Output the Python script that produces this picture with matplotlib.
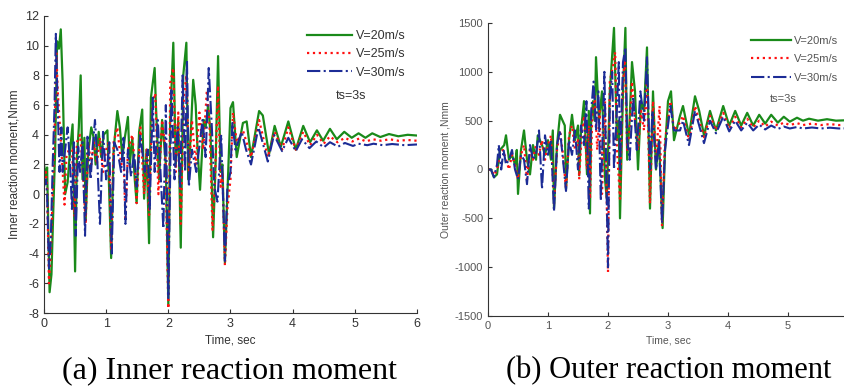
import matplotlib
matplotlib.use("Agg")
import matplotlib.pyplot as plt

# (time, moment) peaks and troughs
inner_20 = [(0, 2.0), (0.03, 1.2), (0.05, 1.8), (0.09, -6.6), (0.12, -5.4), (0.15, -1.0), (0.18, 3.0),
            (0.21, 10.3), (0.24, 9.8), (0.27, 11.1), (0.3, 7.5), (0.34, 0.0), (0.38, 0.8), (0.42, 3.0),
            (0.46, 4.7), (0.5, -5.2), (0.53, 2.5), (0.56, 4.5), (0.59, 8.0), (0.62, 1.0), (0.65, 3.8),
            (0.67, -1.8), (0.71, 2.8), (0.76, 4.5), (0.8, 3.8), (0.83, 2.0), (0.88, 4.2), (0.92, 2.5),
            (0.96, 4.0), (1.02, 4.3), (1.08, -4.3), (1.12, 3.0), (1.18, 5.6), (1.22, 4.5), (1.26, 2.5),
            (1.3, 3.8), (1.35, 5.2), (1.38, 2.0), (1.42, 3.8), (1.46, 1.0), (1.49, -0.6), (1.53, 4.2),
            (1.58, 5.7), (1.61, -0.3), (1.65, 3.0), (1.69, -3.3), (1.72, 6.5), (1.78, 8.5), (1.8, 6.0),
            (1.85, 1.0), (1.9, 5.0), (1.96, 2.0), (2.0, -7.5), (2.03, 5.0), (2.08, 10.2), (2.12, 2.0),
            (2.16, 5.0), (2.2, -3.6), (2.24, 8.0), (2.29, 10.2), (2.32, 1.0), (2.36, 4.0), (2.4, 7.7),
            (2.44, 6.0), (2.47, 3.0), (2.51, 0.3), (2.57, 5.0), (2.6, 4.5), (2.64, 6.0), (2.68, 4.0),
            (2.72, -2.9), (2.76, 2.0), (2.8, 9.3), (2.84, 1.5), (2.87, 2.0), (2.91, -4.6), (2.95, 0.0),
            (3.0, 5.8), (3.04, 6.2), (3.1, 2.5), (3.2, 4.8), (3.26, 4.9), (3.33, 2.5), (3.46, 5.6),
            (3.52, 5.3), (3.62, 2.7), (3.71, 4.6), (3.81, 3.2), (3.93, 4.9), (4.05, 3.0), (4.17, 4.6),
            (4.28, 3.5), (4.39, 4.3), (4.49, 3.6), (4.6, 4.4), (4.71, 3.7), (4.83, 4.2), (4.95, 3.8),
            (5.06, 4.1), (5.17, 3.8), (5.28, 4.1), (5.41, 3.85), (5.55, 4.05), (5.7, 3.9), (5.85, 4.0),
            (6.0, 3.95)]

inner_25 = [(0, 1.0), (0.03, 1.5), (0.05, 0.5), (0.08, -6.0), (0.11, -4.0), (0.14, 0.0), (0.17, 4.0),
            (0.2, 9.5), (0.22, 7.0), (0.25, 5.0), (0.28, 3.0), (0.33, -0.7), (0.36, 2.5), (0.4, 3.0),
            (0.45, 3.0), (0.49, -1.5), (0.53, 3.5), (0.58, 4.0), (0.62, 2.0), (0.67, -2.0), (0.71, 3.5),
            (0.76, 2.0), (0.8, 3.5), (0.85, 2.0), (0.9, 3.8), (0.95, 1.5), (1.0, 3.0), (1.04, 3.5),
            (1.08, -3.8), (1.12, 3.5), (1.18, 4.5), (1.24, 2.0), (1.28, 2.6), (1.31, -1.8), (1.35, 3.0),
            (1.42, 4.0), (1.46, 2.0), (1.49, -0.6), (1.55, 4.5), (1.61, 0.0), (1.65, 3.0), (1.69, -1.4),
            (1.74, 6.0), (1.79, 6.8), (1.84, 0.0), (1.9, 5.0), (1.95, 3.0), (2.0, -7.7), (2.03, 7.5),
            (2.08, 8.5), (2.12, 1.5), (2.16, 5.5), (2.2, -2.0), (2.25, 6.5), (2.29, 8.0), (2.33, 1.5),
            (2.38, 5.0), (2.44, 2.0), (2.5, 5.5), (2.56, 3.0), (2.62, 7.0), (2.66, 5.0), (2.71, -2.4),
            (2.75, 1.0), (2.8, 7.3), (2.84, 0.5), (2.87, 1.5), (2.91, -4.8), (2.95, -1.0), (3.0, 1.0),
            (3.04, 5.5), (3.1, 3.5), (3.2, 4.3), (3.33, 2.5), (3.46, 5.0), (3.6, 2.5), (3.71, 4.2),
            (3.83, 3.0), (3.93, 4.5), (4.05, 3.0), (4.17, 4.2), (4.28, 3.3), (4.39, 4.0), (4.5, 3.4),
            (4.6, 3.9), (4.72, 3.5), (4.84, 3.8), (4.96, 3.55), (5.07, 3.75), (5.18, 3.55), (5.29, 3.7),
            (5.42, 3.6), (5.56, 3.7), (5.7, 3.6), (5.85, 3.65), (6.0, 3.6)]

inner_30 = [(0, 0.5), (0.03, 1.0), (0.05, 0.0), (0.08, -5.0), (0.11, -3.0), (0.14, 2.0), (0.17, 6.0),
            (0.19, 10.8), (0.22, 6.0), (0.25, 1.5), (0.28, 4.5), (0.3, 1.5), (0.34, 3.0), (0.38, 4.5),
            (0.42, 2.0), (0.45, -1.0), (0.48, 3.5), (0.51, -2.8), (0.55, 3.2), (0.58, 1.5), (0.62, 3.5),
            (0.66, -2.8), (0.7, 4.0), (0.75, 1.0), (0.78, 3.0), (0.82, 5.0), (0.86, 2.0), (0.9, -2.0),
            (0.95, 4.2), (1.0, 1.0), (1.05, 3.5), (1.09, -4.0), (1.13, 3.5), (1.18, 3.0), (1.24, 1.5),
            (1.28, 3.8), (1.31, -2.0), (1.35, 3.0), (1.4, 1.2), (1.45, 2.8), (1.49, 0.5), (1.55, 4.0),
            (1.62, 1.5), (1.67, 3.0), (1.7, -1.0), (1.75, 6.5), (1.78, 1.5), (1.83, 5.0), (1.88, 1.0),
            (1.92, -2.3), (1.96, 6.0), (2.0, -7.0), (2.05, 7.0), (2.1, 1.0), (2.15, 4.5), (2.19, 0.5),
            (2.23, 8.0), (2.27, 1.5), (2.3, 9.0), (2.33, 0.5), (2.38, 3.0), (2.45, 1.5), (2.55, 5.0),
            (2.6, 2.5), (2.65, 8.5), (2.7, 4.5), (2.74, 0.5), (2.79, -0.5), (2.85, 4.0), (2.91, -4.5),
            (2.95, 0.5), (3.0, 1.5), (3.03, 4.8), (3.08, 3.0), (3.18, 4.2), (3.25, 3.0), (3.33, 2.0),
            (3.45, 4.5), (3.6, 2.2), (3.7, 4.0), (3.83, 2.9), (3.93, 3.8), (4.05, 2.9), (4.15, 3.7),
            (4.27, 3.1), (4.38, 3.55), (4.5, 3.15), (4.6, 3.5), (4.73, 3.2), (4.84, 3.45), (4.97, 3.25),
            (5.06, 3.4), (5.2, 3.3), (5.3, 3.4), (5.45, 3.3), (5.6, 3.38), (5.8, 3.3), (6.0, 3.35)]

outer_20 = [(0, 0), (0.05, 0), (0.1, -80), (0.15, -50), (0.2, 200), (0.27, 250), (0.3, 350), (0.35, 100),
            (0.4, 150), (0.45, 50), (0.48, 200), (0.5, -250), (0.55, 200), (0.6, 400), (0.65, 100),
            (0.7, -50), (0.75, 250), (0.8, 100), (0.83, 350), (0.9, 250), (0.95, 150), (1.0, 300),
            (1.05, 100), (1.08, 400), (1.1, -400), (1.15, 250), (1.2, 560), (1.28, 450), (1.3, -200),
            (1.35, 300), (1.4, 560), (1.45, 300), (1.5, 450), (1.52, -60), (1.55, 400), (1.6, 700),
            (1.65, -50), (1.68, 600), (1.7, -450), (1.72, 500), (1.75, 700), (1.78, 500), (1.8, 1150),
            (1.85, 500), (1.9, 800), (1.95, -100), (1.98, -300), (2.03, 800), (2.1, 1450), (2.15, 300),
            (2.18, 500), (2.2, -500), (2.25, 800), (2.29, 1450), (2.32, 100), (2.36, 500), (2.4, 1100),
            (2.45, 800), (2.5, 0), (2.55, 700), (2.6, 600), (2.65, 1250), (2.7, -400), (2.75, 800),
            (2.8, 0), (2.85, 300), (2.91, -600), (2.95, 200), (3.0, 700), (3.05, 800), (3.1, 300),
            (3.2, 550), (3.25, 650), (3.35, 350), (3.45, 750), (3.52, 600), (3.6, 350), (3.7, 600),
            (3.8, 400), (3.92, 650), (4.02, 450), (4.12, 600), (4.22, 450), (4.32, 580), (4.42, 450),
            (4.52, 560), (4.62, 470), (4.72, 560), (4.83, 480), (4.93, 540), (5.03, 490), (5.15, 530),
            (5.25, 500), (5.35, 520), (5.5, 500), (5.65, 515), (5.8, 500), (6.0, 505)]

outer_25 = [(0, 0), (0.05, 0), (0.1, -60), (0.15, 0), (0.2, 150), (0.25, 200), (0.3, 100), (0.35, 0),
            (0.4, 150), (0.45, 50), (0.5, -100), (0.55, 150), (0.6, 250), (0.65, -100), (0.7, 200),
            (0.75, 100), (0.8, 250), (0.85, 150), (0.9, 300), (0.95, 100), (1.0, 250), (1.05, 350),
            (1.1, -350), (1.15, 200), (1.2, 400), (1.25, 150), (1.3, -200), (1.35, 350), (1.4, 450),
            (1.45, 200), (1.5, 300), (1.52, -100), (1.56, 350), (1.6, 550), (1.65, 0), (1.68, 450),
            (1.7, -300), (1.74, 600), (1.78, 750), (1.82, 200), (1.86, 600), (1.9, -250), (1.95, 700),
            (2.0, -1050), (2.03, 900), (2.08, 1050), (2.12, 1200), (2.15, 200), (2.2, -300), (2.24, 750),
            (2.28, 1150), (2.32, 200), (2.36, 400), (2.4, 900), (2.45, 500), (2.5, 200), (2.55, 600),
            (2.6, 400), (2.65, 900), (2.7, -350), (2.75, 700), (2.8, 100), (2.86, 650), (2.9, -580),
            (2.95, 300), (3.0, 500), (3.04, 700), (3.1, 400), (3.2, 480), (3.25, 550), (3.35, 300),
            (3.45, 650), (3.52, 500), (3.6, 330), (3.7, 550), (3.8, 400), (3.92, 580), (4.02, 420),
            (4.12, 540), (4.22, 430), (4.32, 520), (4.42, 430), (4.52, 500), (4.62, 440), (4.72, 490),
            (4.83, 450), (4.93, 480), (5.03, 455), (5.15, 475), (5.25, 455), (5.4, 470), (5.55, 455),
            (5.7, 465), (5.85, 455), (6.0, 460)]

outer_30 = [(0, 0), (0.05, 0), (0.1, -80), (0.15, 50), (0.18, 250), (0.22, 0), (0.26, 200), (0.3, 50),
            (0.35, 100), (0.4, 200), (0.45, 0), (0.5, -100), (0.55, 150), (0.6, 100), (0.65, -150),
            (0.7, 250), (0.75, 100), (0.8, 150), (0.85, 400), (0.9, -200), (0.95, 350), (1.0, 150),
            (1.05, 300), (1.1, -430), (1.15, 250), (1.2, 400), (1.25, 100), (1.3, -220), (1.35, 300),
            (1.4, 150), (1.45, 400), (1.5, 0), (1.55, 450), (1.6, 250), (1.64, 700), (1.68, -400),
            (1.72, 600), (1.76, 900), (1.8, 400), (1.84, 800), (1.88, -320), (1.94, 1000), (2.0, -1000),
            (2.03, 700), (2.07, 1000), (2.1, 0), (2.14, 500), (2.18, 1100), (2.2, 0), (2.25, 1100),
            (2.29, 1250), (2.32, 300), (2.36, 100), (2.42, 750), (2.48, 200), (2.54, 800), (2.6, 500),
            (2.65, 1150), (2.7, 0), (2.74, 600), (2.8, 0), (2.85, 300), (2.9, -550), (2.95, 200),
            (3.0, 450), (3.04, 650), (3.1, 400), (3.2, 400), (3.25, 500), (3.35, 250), (3.45, 600),
            (3.52, 450), (3.6, 270), (3.7, 500), (3.8, 370), (3.92, 540), (4.02, 390), (4.12, 500),
            (4.22, 400), (4.32, 480), (4.42, 400), (4.52, 460), (4.62, 410), (4.72, 450), (4.83, 415),
            (4.93, 440), (5.03, 420), (5.15, 435), (5.25, 420), (5.4, 430), (5.55, 420), (5.7, 428),
            (5.85, 420), (6.0, 422)]

labels = ["V=20m/s", "V=25m/s", "V=30m/s"]
colors = ["#1a8a1a", "#ff1010", "#1c2c96"]
styles = ["-", ":", "-."]
widths = [1.6, 1.6, 1.5]

plt.rcParams["font.family"] = ["Liberation Sans", "DejaVu Sans"]
plt.rcParams["axes.unicode_minus"] = False

fig = plt.figure(figsize=(8.45, 3.87), dpi=100)
ax1 = fig.add_axes([44 / 845, 74 / 387, 373 / 845, 297 / 387])
ax2 = fig.add_axes([488 / 845, 71 / 387, 360 / 845, 293 / 387])


def draw(ax, series, ylim, yticks, xticks, ylabel, tsy, fs, tc, spacing):
    for s, lab, c, ls, lw in zip(series, labels, colors, styles, widths):
        t = [p[0] for p in s]
        v = [p[1] for p in s]
        ax.plot(t, v, ls, color=c, lw=lw, label=lab)
    ax.set_xlim(0, 6)
    ax.set_ylim(*ylim)
    ax.set_yticks(yticks)
    ax.set_xticks(xticks)
    ax.spines["top"].set_visible(False)
    ax.spines["right"].set_visible(False)
    for sp in ("left", "bottom"):
        ax.spines[sp].set_color("#333333")
    ax.tick_params(direction="in", length=3, labelsize=fs, colors="#333333", labelcolor=tc)
    ax.set_ylabel(ylabel, fontsize=fs - 0.5, color=tc, labelpad=3)
    ax.set_xlabel("Time, sec", fontsize=fs - 0.5, color=tc, labelpad=3)
    ax.legend(loc="upper right", bbox_to_anchor=(1.0, 0.99), frameon=False, fontsize=fs,
              handlelength=3.6, handletextpad=0.3, labelspacing=spacing, labelcolor=tc)
    ax.text(4.7, tsy, "ts=3s", fontsize=fs, color=tc)


draw(ax1, [inner_20, inner_25, inner_30], (-8, 12), range(-8, 13, 2), range(7),
     "Inner reaction moment,Nmm", 6.4, 9, "#333333", 0.5)
draw(ax2, [outer_20, outer_25, outer_30], (-1500, 1500), range(-1500, 1501, 500), range(6),
     "Outer reaction moment ,Nmm", 690, 8, "#555555", 0.75)

fig.text(230 / 845, 16 / 387, "(a) Inner reaction moment", family="Liberation Serif",
         fontsize=23, ha="center", va="center")
fig.text(506 / 845, 16 / 387, "(b) Outer reaction moment", family="Liberation Serif",
         fontsize=22, ha="left", va="center")

fig.savefig("out.png", dpi=100)
